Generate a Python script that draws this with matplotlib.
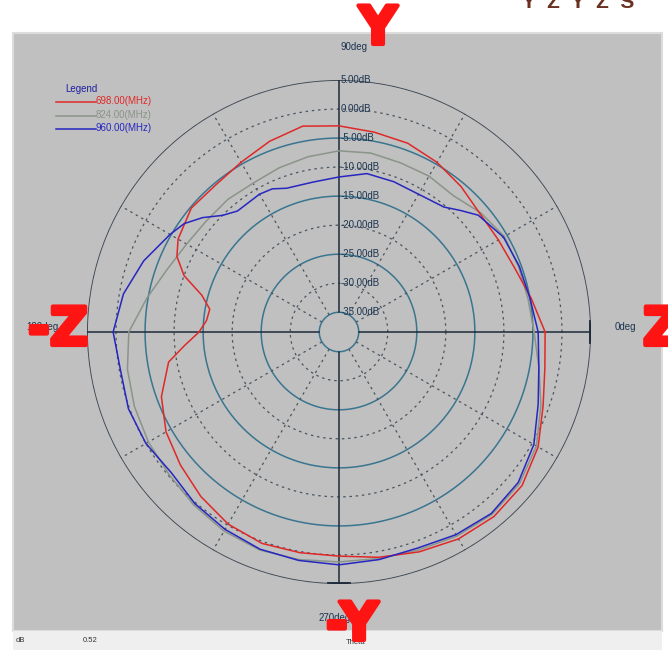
import numpy as np
import matplotlib
matplotlib.use('Agg')
import matplotlib.pyplot as plt
import matplotlib.patheffects as pe
from matplotlib.patches import Rectangle
from matplotlib.lines import Line2D

# ring values (dB) and their labels
ring_db = [5, 0, -5, -10, -15, -20, -25, -30, -35]
ring_labels = ['5.00dB', '0.00dB', '-5.00dB', '-10.00dB', '-15.00dB',
               '-20.00dB', '-25.00dB', '-30.00dB', '-35.00dB']
angle_labels = ['0deg', '90deg', '180deg', '270deg']
series_names = ['698.00(MHz)', '824.00(MHz)', '960.00(MHz)']

# 698 MHz
red_deg = [0, 10, 20, 30, 40, 50, 60, 70, 80, 90, 100, 110, 120, 130, 140, 150, 155,
           160, 165, 170, 175, 180, 185, 190, 200, 210, 220, 230, 240, 250, 260, 270,
           280, 290, 300, 310, 320, 330, 340, 350, 360]
red_db = [-2.9, -4.8, -6.2, -6.7, -6.7, -5.7, -4.65, -3.8, -3.45, -2.9, -2.4, -3.45,
          -4.65, -5.35, -5.2, -6.4, -7.6, -10.0, -13.95, -15.8, -15.5, -14.3, -11.7,
          -8.6, -5.85, -4.0, -2.75, -1.4, -0.2, 0.35, 0.2, 0.2, 1.0, 1.9, 2.75, 3.1,
          2.75, 1.2, -1.0, -2.4, -2.9]

# 824 MHz
gray_deg = [0, 10, 20, 30, 40, 50, 60, 70, 80, 90, 100, 110, 120, 130, 140, 150, 160,
            170, 180, 190, 200, 210, 220, 230, 240, 250, 260, 270, 280, 290, 300, 310,
            320, 330, 340, 350, 360]
gray_db = [-4.8, -5.35, -5.5, -5.5, -6.5, -7.75, -7.4, -7.4, -7.1, -7.2, -7.75, -8.3,
           -8.8, -8.6, -8.6, -8.1, -6.9, -4.8, -2.2, -1.4, -0.9, -0.5, -0.2, 0.5, 1.2,
           1.55, 1.4, 1.2, 1.2, 1.55, 2.2, 2.6, 2.2, 0.85, -1.4, -3.45, -4.8]

# 960 MHz
blue_deg = [0, 10, 20, 30, 40, 45, 50, 60, 70, 80, 90, 100, 110, 115, 120, 130, 135,
            140, 145, 150, 160, 170, 180, 190, 200, 210, 220, 230, 240, 250, 260, 270,
            280, 290, 300, 310, 320, 330, 340, 350, 360]
blue_db = [-4.1, -5.0, -5.35, -5.7, -7.1, -8.8, -10.3, -11.0, -10.85, -10.7, -11.7,
           -12.2, -12.05, -11.2, -11.0, -11.2, -10.0, -7.75, -5.85, -4.8, -2.6, -0.7,
           0.5, -0.2, 0.2, 0.0, -0.7, 0.2, 0.85, 1.4, 1.55, 1.7, 1.4, 1.2, 1.9, 2.4,
           1.9, 0.35, -1.9, -3.45, -4.1]

W, H = 668, 653
def fx(x):
    return x / W
def fy(y):
    return 1 - y / H

fig = plt.figure(figsize=(W / 100, H / 100), dpi=100)
fig.patch.set_facecolor('white')
plt.rcParams['font.family'] = ['Liberation Sans', 'DejaVu Sans']

# grey panel + status bar (behind the axes)
fig.patches.append(Rectangle((fx(13), fy(631)), fx(662) - fx(13), fy(33) - fy(631),
                             transform=fig.transFigure, facecolor='#c0c0c0',
                             edgecolor='#dcdcdc', lw=1.5, zorder=-2))
fig.patches.append(Rectangle((fx(13), fy(650)), fx(662) - fx(13), fy(631) - fy(650),
                             transform=fig.transFigure, facecolor='#efefef',
                             edgecolor='none', zorder=-2))

ax = fig.add_axes([fx(87), fy(584), fx(591) - fx(87), fy(80) - fy(584)], projection='polar')
ax.set_facecolor('none')
ax.set_ylim(-38.4, 5)
ax.grid(False)
ax.set_xticks([])
ax.set_yticks([])
ax.spines['polar'].set_visible(False)

th = np.linspace(0, 2 * np.pi, 721)
for i, db in enumerate(ring_db):
    if i == 0:
        ax.plot(th, np.full_like(th, db), color='#3c4652', lw=1.3)
    elif i % 2 == 0:
        ax.plot(th, np.full_like(th, db), color='#3a7590', lw=1.1)
    else:
        ax.plot(th, np.full_like(th, db), color='#4a5560', lw=0.9, ls=(0, (2, 3)))

# dotted spokes
for a in [30, 60, 120, 150, 210, 240, 300, 330]:
    ax.plot([np.radians(a)] * 2, [-35, 5], color='#4a5560', lw=0.9, ls=(0, (2, 3)))
# solid cross axes
for a in [0, 90, 180, 270]:
    ax.plot([np.radians(a)] * 2, [-35, 5], color='#1e2a3a', lw=1.1)
for a in [0, 270]:
    ax.plot(np.radians([a - 2.3, a + 2.3]), [5, 5], color='#1e2a3a', lw=2.8)

# curves
ax.plot(np.radians(gray_deg), gray_db, color='#8a9488', lw=1.1)
ax.plot(np.radians(red_deg), red_db, color='#e02828', lw=1.1)
ax.plot(np.radians(blue_deg), blue_db, color='#2626c0', lw=1.1)

for db, lab in zip(ring_db, ring_labels):
    ax.annotate(lab, (np.pi / 2, db), xytext=(1, 0), textcoords='offset points',
                ha='left', va='center', fontsize=7, color='#1c3450')

# angle labels
fig.text(fx(625), fy(327), angle_labels[0], ha='center', va='center', fontsize=7, color='#1c3450')
fig.text(fx(354), fy(47), angle_labels[1], ha='center', va='center', fontsize=7, color='#1c3450')
fig.text(fx(42), fy(327), angle_labels[2], ha='center', va='center', fontsize=7, color='#1c3450')
fig.text(fx(335), fy(618), angle_labels[3], ha='center', va='center', fontsize=7, color='#1c3450')

# legend
fig.text(fx(65), fy(89), 'Legend', ha='left', va='center', fontsize=7, color='#2020a0')
leg_cols = ['#e02828', '#8a9488', '#2626c0']
for k, (name, c) in enumerate(zip(series_names, leg_cols)):
    yy = 102 + 13.5 * k
    fig.add_artist(Line2D([fx(56), fx(96)], [fy(yy), fy(yy)], color=c, lw=1.1,
                          transform=fig.transFigure))
    fig.text(fx(96), fy(yy - 1), name, ha='left', va='center', fontsize=7, color=c)

# status bar text
fig.text(fx(16), fy(641), 'dB', ha='left', va='center', fontsize=5.5, color='#333333')
fig.text(fx(83), fy(641), '0.52', ha='left', va='center', fontsize=5.5, color='#333333')
fig.text(fx(346), fy(642), 'Theta', ha='left', va='center', fontsize=5.5, color='#333333')

# red axis markers
red = '#ff1414'
heavy = dict(fontsize=38, fontweight='bold', color=red, family='DejaVu Sans',
             path_effects=[pe.withStroke(linewidth=3, foreground=red)])
fig.text(fx(378), fy(29), 'Y', ha='center', va='center', **heavy)
fig.text(fx(352), fy(625), '-Y', ha='center', va='center', **heavy)
fig.text(fx(58), fy(330), '-Z', ha='center', va='center', **heavy)
fig.text(fx(662), fy(330), 'Z', ha='center', va='center', **heavy)
# cut-off text at the top edge
fig.text(fx(578), fy(3), 'Y  Z  Y  Z  S', ha='center', va='center', fontsize=15,
         fontweight='bold', color='#6a3020')

fig.savefig('out.png', dpi=100)
